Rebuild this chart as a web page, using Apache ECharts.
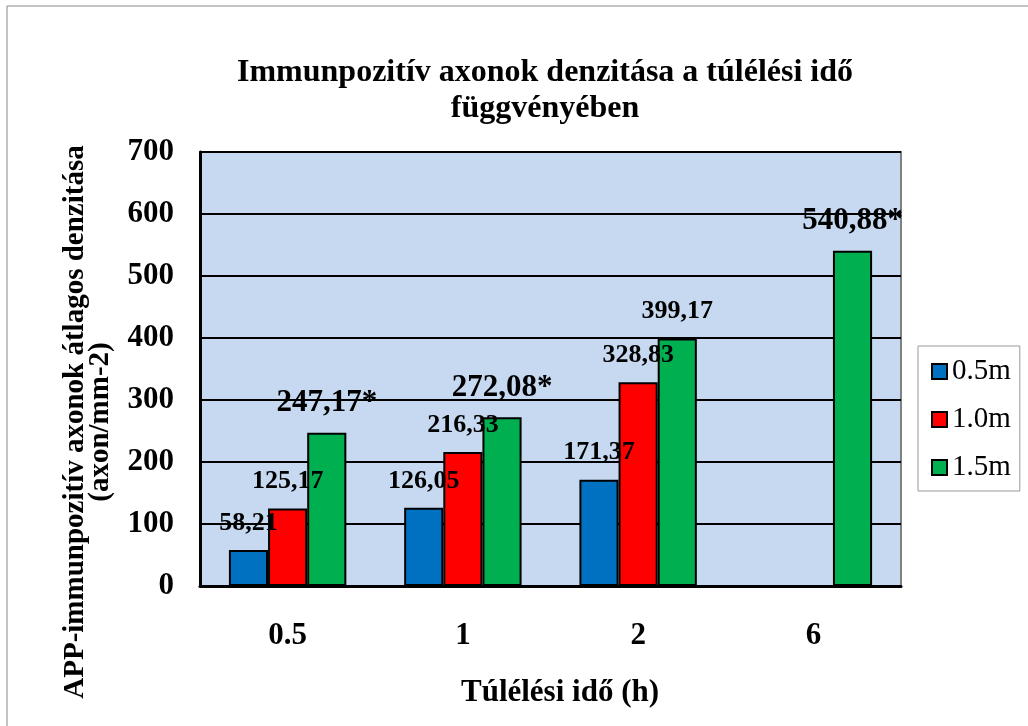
<!DOCTYPE html>
<html>
<head>
<meta charset="utf-8">
<script src="https://cdn.jsdelivr.net/npm/echarts@6/dist/echarts.min.js"></script>
<style>
html,body{margin:0;padding:0;background:#fff;}
#chart{width:1028px;height:726px;}
</style>
</head>
<body>
<div id="chart"></div>
<script>
const categories = ['0.5', '1', '2', '6'];
const seriesNames = ['0.5m', '1.0m', '1.5m'];
const values05 = [58.21, 126.05, 171.37, null];
const values10 = [125.17, 216.33, 328.83, null];
const values15 = [247.17, 272.08, 399.17, 540.88];
const starred05 = [false, false, false, false];
const starred10 = [false, false, false, false];
const starred15 = [true, true, false, true];
const yMin = 0, yMax = 700, yInterval = 100;
const titleLines = ['Immunpozitív axonok denzitása a túlélési idő', 'függvényében'];
const yTitleLines = ['APP-immunpozitív axonok átlagos denzitása', '(axon/mm-2)'];
const xTitle = 'Túlélési idő (h)';

const FONT = '"Liberation Serif", "Times New Roman", serif';
const colors = ['#0070C0', '#FF0000', '#00B050'];

function buildData(vals, stars) {
  return vals.map((v, i) => {
    if (v === null) return null;
    return {
      value: v,
      label: stars[i] ? { fontSize: 31, formatter: v.toFixed(2).replace('.', ',') + '*' } : {}
    };
  });
}

function mkSeries(name, vals, stars, color) {
  return {
    name: name,
    type: 'bar',
    barGap: 0,
    barCategoryGap: '33%',
    itemStyle: { color: color, borderColor: '#000', borderWidth: 2 },
    label: {
      show: true,
      position: 'top',
      distance: 14,
      fontFamily: FONT,
      fontWeight: 'bold',
      fontSize: 26,
      color: '#000',
      formatter: p => p.value.toFixed(2).replace('.', ',')
    },
    data: buildData(vals, stars)
  };
}

const chart = echarts.init(document.getElementById('chart'));
chart.setOption({
  animation: false,
  backgroundColor: '#fff',
  textStyle: { fontFamily: FONT },
  grid: {
    left: 200, right: 127, top: 152, bottom: 140,
    show: true, backgroundColor: '#C6D9F0', borderColor: '#808080', borderWidth: 2
  },
  legend: {
    orient: 'vertical',
    left: 918, top: 346,
    padding: [11, 9, 9, 13],
    itemGap: 19,
    itemWidth: 15, itemHeight: 15,
    borderColor: '#999', borderWidth: 1,
    backgroundColor: '#fff',
    icon: 'rect',
    data: seriesNames,
    textStyle: { fontFamily: FONT, fontSize: 29, color: '#000' }
  },
  xAxis: {
    type: 'category',
    data: categories,
    axisLine: { lineStyle: { color: '#000', width: 3 } },
    axisTick: { show: false },
    axisLabel: { margin: 34, fontFamily: FONT, fontWeight: 'bold', fontSize: 31, color: '#000' }
  },
  yAxis: {
    type: 'value',
    min: yMin, max: yMax, interval: yInterval,
    axisLine: { show: true, lineStyle: { color: '#000', width: 3 } },
    axisTick: { show: false },
    splitLine: { lineStyle: { color: '#000', width: 2 } },
    axisLabel: { margin: 26, fontFamily: FONT, fontWeight: 'bold', fontSize: 31, color: '#000' }
  },
  series: [
    mkSeries(seriesNames[0], values05, starred05, colors[0]),
    mkSeries(seriesNames[1], values10, starred10, colors[1]),
    mkSeries(seriesNames[2], values15, starred15, colors[2])
  ],
  graphic: [
    {
      type: 'rect', silent: true, z: -10,
      shape: { x: 7, y: 6, width: 1100, height: 800 },
      style: { fill: 'none', stroke: '#888', lineWidth: 1 }
    },
    {
      type: 'text', x: 545, y: 91,
      style: {
        text: titleLines.join('\n'), textAlign: 'center', textVerticalAlign: 'middle',
        font: 'bold 32px ' + FONT, lineHeight: 36, fill: '#000'
      }
    },
    {
      type: 'text', x: 88, y: 422, rotation: Math.PI / 2,
      style: {
        text: yTitleLines.join('\n'), textAlign: 'center', textVerticalAlign: 'middle',
        font: 'bold 29px ' + FONT, lineHeight: 25, fill: '#000'
      }
    },
    {
      type: 'text', x: 560, y: 693,
      style: {
        text: xTitle, textAlign: 'center', textVerticalAlign: 'middle',
        font: 'bold 31px ' + FONT, fill: '#000'
      }
    }
  ]
});
</script>
</body>
</html>
